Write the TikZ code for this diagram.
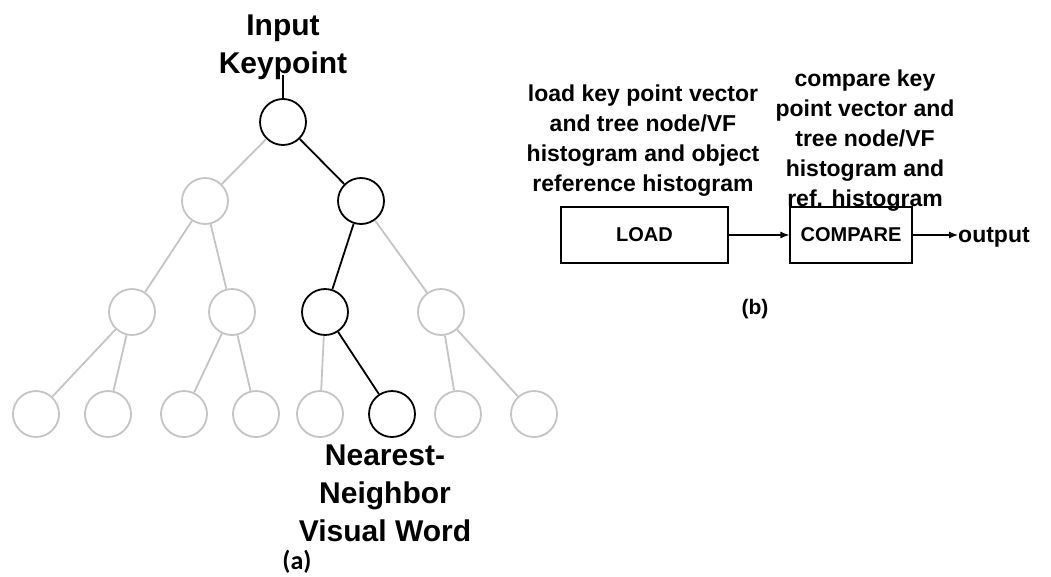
\documentclass[tikz,border=0pt]{standalone}
\usepackage{fontspec}
\setmainfont{Liberation Sans}
\newfontfamily\capfont{Carlito}
\usetikzlibrary{arrows.meta}
\definecolor{faded}{RGB}{196,196,196}
\tikzset{
  vw/.style={circle, draw=faded, line width=1.8pt, minimum size=46pt, inner sep=0pt},
  vwpath/.style={vw, draw=black},
  fadededge/.style={draw=faded, line width=1.8pt},
  pathedge/.style={draw=black, line width=1.8pt},
  bigtxt/.style={font=\fontsize{30}{38}\selectfont\bfseries, align=center, inner sep=0pt},
  desc/.style={font=\fontsize{23}{29.8}\selectfont\bfseries, align=center, inner sep=0pt},
  stage/.style={draw, line width=1.2pt, minimum height=56pt, inner sep=0pt,
    font=\fontsize{20}{24}\selectfont\bfseries},
  flow/.style={line width=1.2pt, -{Latex[length=9pt,width=7pt]}},
}
\begin{document}
\begin{tikzpicture}[x=1pt, y=-1pt]
\useasboundingbox (0,0) rectangle (1051,576);

% ---- vocabulary tree ----
\node[vwpath] (r)   at (283,122) {};
\node[vw]     (aL)  at (205,201) {};
\node[vwpath] (aR)  at (361,201) {};
\node[vw]     (b1)  at (132,312) {};
\node[vw]     (b2)  at (232,312) {};
\node[vwpath] (b3)  at (325,312) {};
\node[vw]     (b4)  at (441,312) {};
\node[vw]     (c1)  at (36,414) {};
\node[vw]     (c2)  at (108,414) {};
\node[vw]     (c3)  at (184,414) {};
\node[vw]     (c4)  at (256,414) {};
\node[vw]     (c5)  at (320,414) {};
\node[vwpath] (c6)  at (392,414) {};
\node[vw]     (c7)  at (458,414) {};
\node[vw]     (c8)  at (534,414) {};

\path[fadededge] (r) -- (aL);
\path[fadededge] (aL) -- (b1);
\path[fadededge] (aL) -- (b2);
\path[fadededge] (aR) -- (b4);
\path[fadededge] (b1) -- (c1);
\path[fadededge] (b1) -- (c2);
\path[fadededge] (b2) -- (c3);
\path[fadededge] (b2) -- (c4);
\path[fadededge] (b3) -- (c5);
\path[fadededge] (b4) -- (c7);
\path[fadededge] (b4) -- (c8);

\path[pathedge] (r) -- (aR);
\path[pathedge] (aR) -- (b3);
\path[pathedge] (b3) -- (c6);

\node[bigtxt, anchor=north] (kp) at (283,15) {Input\\Keypoint};
\coordinate (kpfoot) at (283,75);
\path[pathedge] (kpfoot) -- (r);

\node[bigtxt, anchor=north] (nn) at (385,445) {Nearest-\\Neighbor\\Visual Word};
\node[font=\capfont\fontsize{26}{28}\selectfont\bfseries, inner sep=0pt] (capa) at (297,562) {(a)};

% ---- hardware pipeline ----
\node[desc, anchor=north] (dload) at (643,85)
  {load key point vector\\and tree node/VF\\histogram and object\\reference histogram};
\node[desc, anchor=north] (dcmp) at (865,70)
  {compare key\\point vector and\\tree node/VF\\histogram and\\ref. histogram};

\node[stage, minimum width=167pt] (load) at (644.5,235) {LOAD};
\node[stage, minimum width=122pt] (cmp)  at (851,235) {COMPARE};
\node[font=\fontsize{23}{26}\selectfont\bfseries, anchor=west, inner sep=0pt] (out) at (958,237) {output};

\draw[flow] (load) -- (cmp);
\draw[flow] (cmp) -- (cmp -| out.west);

\node[font=\fontsize{21}{24}\selectfont\bfseries, inner sep=0pt] (capb) at (755,309) {(b)};
\end{tikzpicture}
\end{document}
